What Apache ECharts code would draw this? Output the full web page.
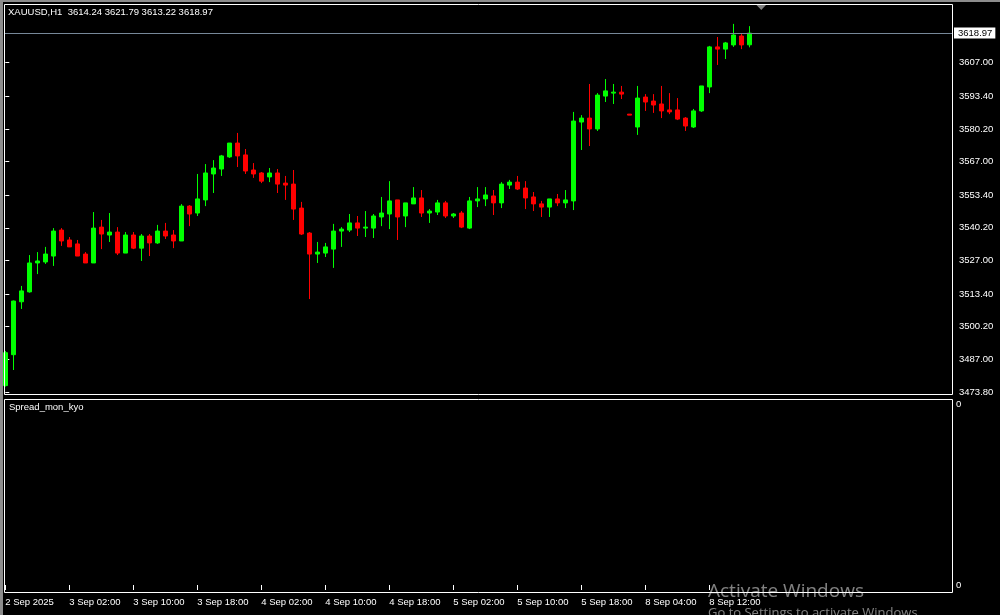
<!DOCTYPE html>
<html><head><meta charset="utf-8">
<script src="https://cdn.jsdelivr.net/npm/echarts@6/dist/echarts.min.js"></script>
<style>html,body{margin:0;padding:0;background:#000;overflow:hidden}#c{width:1000px;height:615px;}</style>
</head><body><div id="c"></div>
<script>
const symbol = 'XAUUSD,H1';
const indicatorName = 'Spread_mon_kyo';
const times = [
 '2 Sep 18:00','2 Sep 19:00','2 Sep 20:00','2 Sep 21:00','2 Sep 22:00','2 Sep 23:00',
 '3 Sep 00:00','3 Sep 01:00','3 Sep 02:00','3 Sep 03:00','3 Sep 04:00','3 Sep 05:00','3 Sep 06:00','3 Sep 07:00',
 '3 Sep 08:00','3 Sep 09:00','3 Sep 10:00','3 Sep 11:00','3 Sep 12:00','3 Sep 13:00','3 Sep 14:00','3 Sep 15:00',
 '3 Sep 16:00','3 Sep 17:00','3 Sep 18:00','3 Sep 19:00','3 Sep 20:00','3 Sep 21:00','3 Sep 22:00','3 Sep 23:00',
 '4 Sep 00:00','4 Sep 01:00','4 Sep 02:00','4 Sep 03:00','4 Sep 04:00','4 Sep 05:00','4 Sep 06:00','4 Sep 07:00',
 '4 Sep 08:00','4 Sep 09:00','4 Sep 10:00','4 Sep 11:00','4 Sep 12:00','4 Sep 13:00','4 Sep 14:00','4 Sep 15:00',
 '4 Sep 16:00','4 Sep 17:00','4 Sep 18:00','4 Sep 19:00','4 Sep 20:00','4 Sep 21:00','4 Sep 22:00','4 Sep 23:00',
 '5 Sep 00:00','5 Sep 01:00','5 Sep 02:00','5 Sep 03:00','5 Sep 04:00','5 Sep 05:00','5 Sep 06:00','5 Sep 07:00',
 '5 Sep 08:00','5 Sep 09:00','5 Sep 10:00','5 Sep 11:00','5 Sep 12:00','5 Sep 13:00','5 Sep 14:00','5 Sep 15:00',
 '5 Sep 16:00','5 Sep 17:00','5 Sep 18:00','5 Sep 19:00','5 Sep 20:00','5 Sep 21:00','5 Sep 22:00',
 '8 Sep 01:00','8 Sep 02:00','8 Sep 03:00','8 Sep 04:00','8 Sep 05:00','8 Sep 06:00','8 Sep 07:00','8 Sep 08:00',
 '8 Sep 09:00','8 Sep 10:00','8 Sep 11:00','8 Sep 12:00','8 Sep 13:00','8 Sep 14:00','8 Sep 15:00','8 Sep 16:00','8 Sep 17:00'
];
const open = [
 3476.4,3488.9,3510.3,3514.3,3526.0,3526.4,3528.8,3539.3,3535.3,3533.7,3529.6,3526.0,3540.5,3537.3,3538.5,3530.0,
 3537.3,3532.0,3536.9,3534.1,3538.9,3537.3,3534.9,3549.0,3546.2,3551.5,3562.0,3564.0,3568.9,3574.5,3569.7,3563.6,
 3562.4,3560.8,3562.4,3558.3,3557.9,3548.2,3538.1,3529.6,3530.0,3531.6,3538.9,3539.3,3542.2,3540.1,3540.1,3544.6,
 3545.8,3551.5,3545.0,3549.9,3552.3,3546.2,3546.6,3550.3,3545.0,3546.2,3540.1,3551.1,3551.9,3553.1,3550.3,3557.5,
 3558.7,3556.3,3552.7,3549.9,3548.6,3551.9,3550.3,3551.1,3583.0,3584.6,3580.2,3593.5,3594.7,3595.1,3586.2,3581.0,
 3593.1,3591.5,3590.3,3587.9,3587.9,3584.6,3581.0,3587.5,3597.2,3613.4,3612.5,3614.2,3617.8,3614.24
];
const high = [
 3490.4,3510.8,3516.7,3529.2,3530.4,3532.5,3540.1,3540.1,3536.5,3535.3,3530.4,3546.6,3543.4,3546.2,3540.5,3538.5,
 3538.5,3537.7,3537.7,3541.4,3542.2,3539.3,3549.8,3549.4,3562.0,3566.0,3567.6,3569.7,3574.5,3578.6,3572.1,3566.4,
 3562.8,3564.4,3564.0,3561.2,3563.6,3550.7,3538.5,3534.5,3534.1,3541.8,3540.5,3545.8,3545.0,3547.0,3545.8,3552.7,
 3559.1,3551.5,3550.3,3556.7,3555.5,3547.8,3551.5,3551.1,3546.2,3547.0,3552.7,3556.7,3556.7,3555.5,3558.7,3559.6,
 3561.2,3559.1,3554.7,3551.1,3551.9,3553.9,3555.5,3587.1,3585.8,3598.4,3594.7,3600.4,3598.4,3597.6,3586.2,3597.6,
 3594.3,3594.3,3597.6,3594.7,3592.7,3585.0,3588.3,3597.6,3613.8,3617.4,3615.4,3622.7,3618.6,3621.79
];
const low = [
 3476.0,3482.7,3507.4,3514.0,3521.5,3525.6,3524.8,3532.9,3532.5,3528.8,3526.0,3526.0,3531.6,3534.5,3529.2,3530.0,
 3531.6,3526.8,3528.8,3533.7,3535.7,3532.0,3534.9,3540.9,3545.0,3549.0,3554.3,3561.2,3568.5,3564.8,3562.0,3560.4,
 3558.3,3558.7,3554.3,3551.5,3543.4,3537.3,3511.4,3526.0,3528.4,3524.0,3532.5,3538.5,3536.9,3536.5,3536.1,3540.9,
 3539.7,3535.3,3540.5,3549.9,3544.6,3542.2,3545.4,3544.2,3544.2,3540.1,3539.7,3548.6,3549.0,3545.4,3548.2,3555.9,
 3555.5,3547.8,3547.0,3544.6,3544.6,3549.0,3548.2,3547.4,3571.7,3573.3,3579.4,3591.1,3590.3,3592.3,3585.8,3577.8,
 3587.5,3586.7,3584.6,3586.2,3583.8,3579.4,3580.6,3587.1,3594.7,3606.1,3608.5,3613.4,3612.5,3613.22
];
const close = [
 3489.7,3510.6,3514.7,3526.0,3526.8,3529.6,3538.9,3534.9,3532.5,3528.8,3526.0,3540.1,3537.7,3538.5,3530.0,3537.3,
 3532.0,3536.9,3534.1,3538.9,3536.9,3534.9,3549.0,3545.8,3551.9,3562.4,3564.4,3569.3,3574.5,3569.3,3563.2,3562.0,
 3559.1,3562.4,3557.9,3557.5,3547.8,3537.7,3529.6,3530.4,3532.5,3538.9,3539.7,3542.2,3540.1,3540.5,3545.0,3546.2,
 3551.1,3544.6,3550.3,3552.3,3546.2,3547.0,3550.3,3545.0,3545.8,3540.5,3551.1,3551.9,3553.5,3550.3,3557.9,3558.7,
 3555.9,3552.3,3549.9,3548.6,3551.9,3550.3,3551.5,3583.4,3584.6,3580.2,3593.9,3595.6,3595.1,3594.3,3585.8,3592.7,
 3591.1,3589.9,3587.5,3587.1,3584.2,3581.4,3587.5,3597.6,3613.4,3612.5,3615.0,3618.2,3614.2,3618.97
];
const priceTicks = [3473.80,3487.00,3500.20,3513.40,3527.00,3540.20,3553.40,3567.00,3580.20,3593.40,3607.00];
const timeTickIndex = [0,8,16,24,32,40,48,56,64,72,80,88];
const timeTickLabels = ['2 Sep 2025','3 Sep 02:00','3 Sep 10:00','3 Sep 18:00','4 Sep 02:00','4 Sep 10:00',
 '4 Sep 18:00','5 Sep 02:00','5 Sep 10:00','5 Sep 18:00','8 Sep 04:00','8 Sep 12:00'];
const indicatorTicks = [0, 1];
const indicatorTickLabels = ['0', '0'];

const FONT = 'Liberation Sans';
const FS = 9.5;
const last = open.length - 1;
const header = symbol + '  ' + [open[last], high[last], low[last], close[last]].map(v => v.toFixed(2)).join(' ');
const ohlc = times.map((t, i) => [i, open[i], close[i], low[i], high[i]]);
const X_MIN = -0.1625, X_MAX = 118.34;

const chart = echarts.init(document.getElementById('c'), null, {renderer: 'canvas'});
chart.setOption({
  animation: false,
  backgroundColor: '#000000',
  textStyle: {fontFamily: FONT},
  title: [
    {text: header, left: 8, top: 7, padding: 0, textStyle: {color: '#ffffff', fontSize: FS, fontWeight: 'normal', fontFamily: FONT}},
    {text: indicatorName, left: 9, top: 402, padding: 0, textStyle: {color: '#ffffff', fontSize: FS, fontWeight: 'normal', fontFamily: FONT}}
  ],
  grid: [
    {left: 4, right: 48, top: 4, bottom: 220, show: false},
    {left: 4, right: 48, top: 404, bottom: 30, show: false}
  ],
  xAxis: [
    {type: 'value', gridIndex: 0, min: X_MIN, max: X_MAX, show: false},
    {type: 'value', gridIndex: 1, min: X_MIN, max: X_MAX, position: 'bottom', offset: 7,
     axisLine: {show: false}, splitLine: {show: false},
     axisTick: {show: true, customValues: timeTickIndex, length: 5, lineStyle: {color: '#ffffff'}},
     axisLabel: {show: true, customValues: timeTickIndex, color: '#ffffff', fontSize: FS, fontFamily: FONT,
       align: 'left', margin: 5, formatter: v => timeTickLabels[timeTickIndex.indexOf(v)] || ''}}
  ],
  yAxis: [
    {type: 'value', gridIndex: 0, position: 'right', min: 3472.59, max: 3630.75, scale: true,
     axisLine: {show: false}, splitLine: {show: false},
     axisTick: {show: true, customValues: priceTicks, length: 4, lineStyle: {color: '#ffffff'}},
     axisLabel: {show: true, customValues: priceTicks, color: '#ffffff', fontSize: FS, fontFamily: FONT, margin: 7,
       formatter: v => v.toFixed(2)}},
    {type: 'value', gridIndex: 1, position: 'right', min: 0, max: 1,
     axisLine: {show: false}, splitLine: {show: false}, axisTick: {show: false},
     axisLabel: {show: true, customValues: indicatorTicks, color: '#ffffff', fontSize: FS, fontFamily: FONT, margin: 4,
       formatter: v => indicatorTickLabels[indicatorTicks.indexOf(v)]}}
  ],
  series: [{
    type: 'candlestick', xAxisIndex: 0, yAxisIndex: 0,
    data: ohlc, encode: {x: 0, y: [1, 2, 3, 4]},
    barWidth: 4,
    itemStyle: {color: '#00ff00', color0: '#ff0000', borderColor: '#00ff00', borderColor0: '#ff0000', borderColorDoji: '#00ff00', borderWidth: 1},
    markLine: {
      silent: true, symbol: ['none', 'none'], animation: false,
      lineStyle: {color: '#778899', type: 'solid', width: 1},
      label: {show: true, position: 'end', distance: 2, formatter: p => p.value.toFixed(2),
        backgroundColor: '#ffffff', color: '#000000', fontSize: FS, fontFamily: FONT, padding: [1, 3, 0, 4]},
      emphasis: {disabled: true},
      data: [{yAxis: close[last]}]
    }
  }],
  graphic: [
    {type: 'rect', z: 100, silent: true, shape: {x: 0, y: 0, width: 1000, height: 2}, style: {fill: '#8c8c8c'}},
    {type: 'rect', z: 100, silent: true, shape: {x: 0, y: 0, width: 3, height: 615}, style: {fill: '#8c8c8c'}},
    {type: 'rect', z: 100, silent: true, shape: {x: 4.5, y: 4.5, width: 948, height: 390}, style: {fill: null, stroke: '#ffffff', lineWidth: 1}},
    {type: 'rect', z: 100, silent: true, shape: {x: 4.5, y: 399.5, width: 948, height: 193}, style: {fill: null, stroke: '#ffffff', lineWidth: 1}},
    {type: 'polygon', z: 100, silent: true, shape: {points: [[756.5, 5], [766, 5], [761.25, 10]]}, style: {fill: '#808080'}},
    {type: 'text', z: 110, silent: true, x: 708, y: 582, style: {text: 'Activate Windows', fill: 'rgba(255,255,255,0.5)', font: '19px "Open Sans"'}},
    {type: 'text', z: 110, silent: true, x: 708, y: 607, style: {text: 'Go to Settings to activate Windows.', fill: 'rgba(255,255,255,0.5)', font: '13px "Open Sans"'}}
  ]
});
</script></body></html>
